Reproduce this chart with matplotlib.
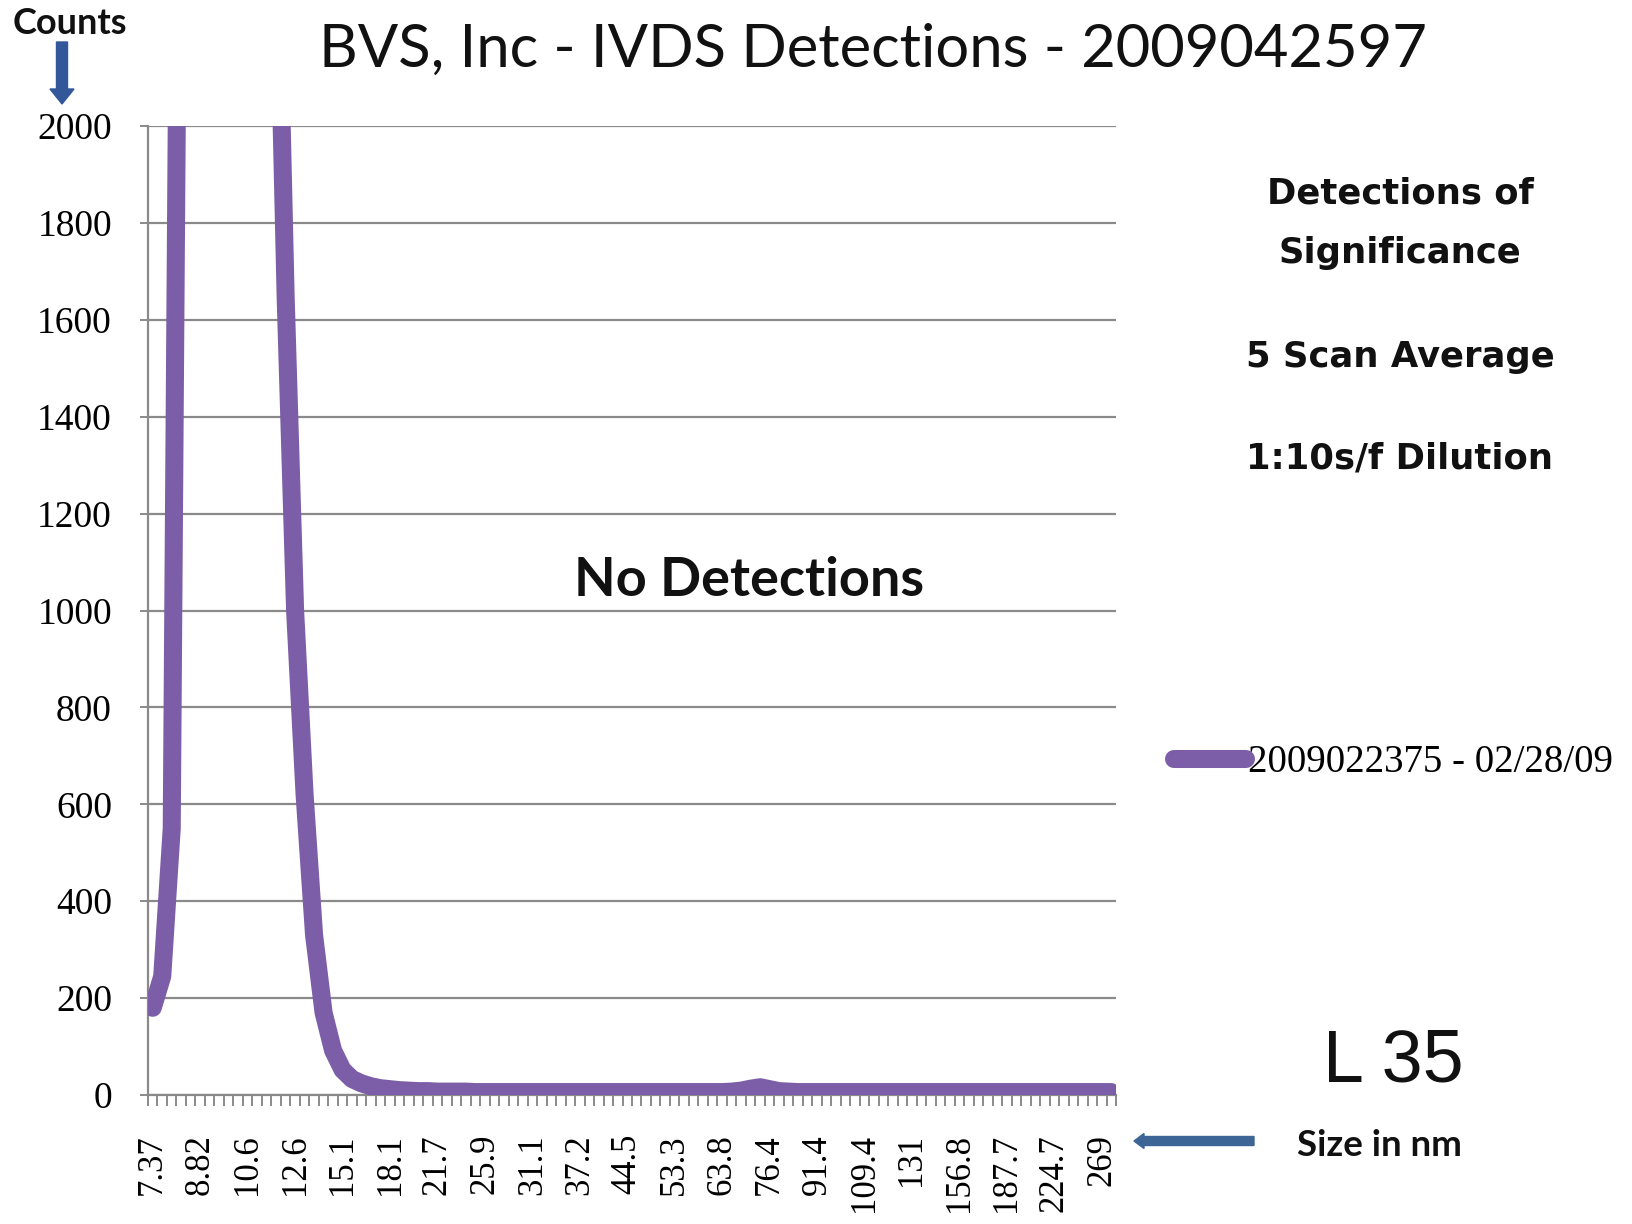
import matplotlib
matplotlib.use("Agg")
import matplotlib.pyplot as plt
from matplotlib.patches import FancyArrow
import numpy as np

# ---------------- data ----------------
size_labels = ["7.37", "8.82", "10.6", "12.6", "15.1", "18.1", "21.7", "25.9", "31.1",
               "37.2", "44.5", "53.3", "63.8", "76.4", "91.4", "109.4", "131", "156.8",
               "187.7", "224.7", "269"]
label_every = 5
series_name = "2009022375 - 02/28/09"
counts = [
    180, 245, 550, 3300, 5200, 7000, 8200, 8600, 8300, 7500,      # 0-9
    6300, 4900, 3600, 2500, 1650, 1000, 620, 330, 170, 92,        # 10-19
    52, 33, 24, 18, 14, 12, 10, 9, 8, 8,                          # 20-29
    7, 7, 7, 7, 6, 6, 6, 6, 6, 6,                                 # 30-39
    6, 6, 6, 6, 6, 6, 6, 6, 6, 6,                                 # 40-49
    6, 6, 6, 6, 6, 6, 6, 6, 6, 6,                                 # 50-59
    6, 7, 9, 13, 16, 12, 8, 7, 6, 6,                              # 60-69
    6, 6, 6, 6, 6, 6, 6, 6, 6, 6,                                 # 70-79
    6, 6, 6, 6, 6, 6, 6, 6, 6, 6,                                 # 80-89
    6, 6, 6, 6, 6, 6, 6, 6, 6, 6,                                 # 90-99
    6, 6,                                                         # 100-101
]
y_ticks = [0, 200, 400, 600, 800, 1000, 1200, 1400, 1600, 1800, 2000]

# ---------------- figure ----------------
W, H = 1632, 1224
fig = plt.figure(figsize=(W / 100, H / 100), dpi=100)
fig.patch.set_facecolor("white")

def fx(px):
    return px / W

def fy(py):
    return 1 - py / H

ax_left, ax_right, ax_top, ax_bot = 148, 1116, 126, 1095
ax = fig.add_axes([fx(ax_left), fy(ax_bot), (ax_right - ax_left) / W, (ax_bot - ax_top) / H])

n = len(counts)
x = np.arange(n)
purple = "#7b5ea7"
grid_gray = "#8a8a8a"

line, = ax.plot(x, counts, color=purple, lw=13, solid_capstyle="round",
                solid_joinstyle="round", label=series_name, zorder=3, clip_on=True)

ax.set_xlim(-0.5, n - 0.5)
ax.set_ylim(0, 2000)

# gridlines
ax.set_yticks(y_ticks)
ax.yaxis.grid(True, color=grid_gray, lw=1.6)
ax.set_axisbelow(True)

for s in ["top", "right"]:
    ax.spines[s].set_visible(False)
for s in ["left", "bottom"]:
    ax.spines[s].set_color(grid_gray)
    ax.spines[s].set_linewidth(1.6)

serif = ["Liberation Serif", "DejaVu Serif"]

ax.tick_params(axis="y", direction="out", length=6, width=1.4, color=grid_gray, pad=20,
               labelsize=27)
for t in ax.get_yticklabels():
    t.set_family(serif)

# x: ticks between every category, labels every 5th category
ax.set_xticks(np.arange(-0.5, n, 1.0), minor=True)
label_pos = np.arange(0, len(size_labels) * label_every, label_every)
ax.set_xticks(label_pos)
ax.set_xticklabels(size_labels, rotation=90, family=serif, fontsize=25)
ax.tick_params(axis="x", which="major", length=0, pad=28)
ax.tick_params(axis="x", which="minor", direction="out", length=8, width=1.4, color=grid_gray)

# ---------------- texts ----------------
fig.text(fx(873), fy(50), "BVS, Inc - IVDS Detections - 2009042597", ha="center", va="center",
         family="Lato", fontsize=43, color="#111111")
fig.text(fx(749), fy(580), "No Detections", ha="center", va="center",
         family="Lato", fontweight="bold", fontsize=39, color="#111111")
fig.text(fx(70), fy(24), "Counts", ha="center", va="center",
         family="Lato", fontweight="bold", fontsize=26, color="#111111")

comic = dict(ha="center", va="center", family="DejaVu Sans", fontweight="bold",
             fontsize=25.5, color="#111111")
fig.text(fx(1400), fy(193), "Detections of", **comic)
fig.text(fx(1400), fy(253), "Significance", **comic)
fig.text(fx(1400), fy(357), "5 Scan Average", **comic)
fig.text(fx(1400), fy(459), "1:10s/f Dilution", **comic)

fig.text(fx(1393), fy(1062), "L 35", ha="center", va="center",
         family="Liberation Sans", fontsize=53, color="#111111")
fig.text(fx(1379), fy(1146), "Size in nm", ha="center", va="center",
         family="Lato", fontweight="bold", fontsize=26.5, color="#111111")

# legend
leg = ax.legend(handles=[line], loc="center left",
                bbox_to_anchor=(fx(1174), fy(763)), bbox_transform=fig.transFigure,
                frameon=False, borderpad=0, borderaxespad=0, handlelength=1.85,
                handletextpad=0.05, prop={"family": serif, "size": 28})

# arrows (inch coordinates)
arrow_blue = "#33589a"
fig.add_artist(FancyArrow(62 / 100, (H - 42) / 100, 0, -(104 - 42) / 100,
                          width=0.11, head_width=0.24, head_length=0.15,
                          length_includes_head=True, color=arrow_blue,
                          transform=fig.dpi_scale_trans))
fig.add_artist(FancyArrow(1254 / 100, (H - 1141) / 100, -(1254 - 1134) / 100, 0,
                          width=0.09, head_width=0.15, head_length=0.10,
                          length_includes_head=True, color="#3d6596",
                          transform=fig.dpi_scale_trans))

fig.savefig("out.png", dpi=100, facecolor="white")
